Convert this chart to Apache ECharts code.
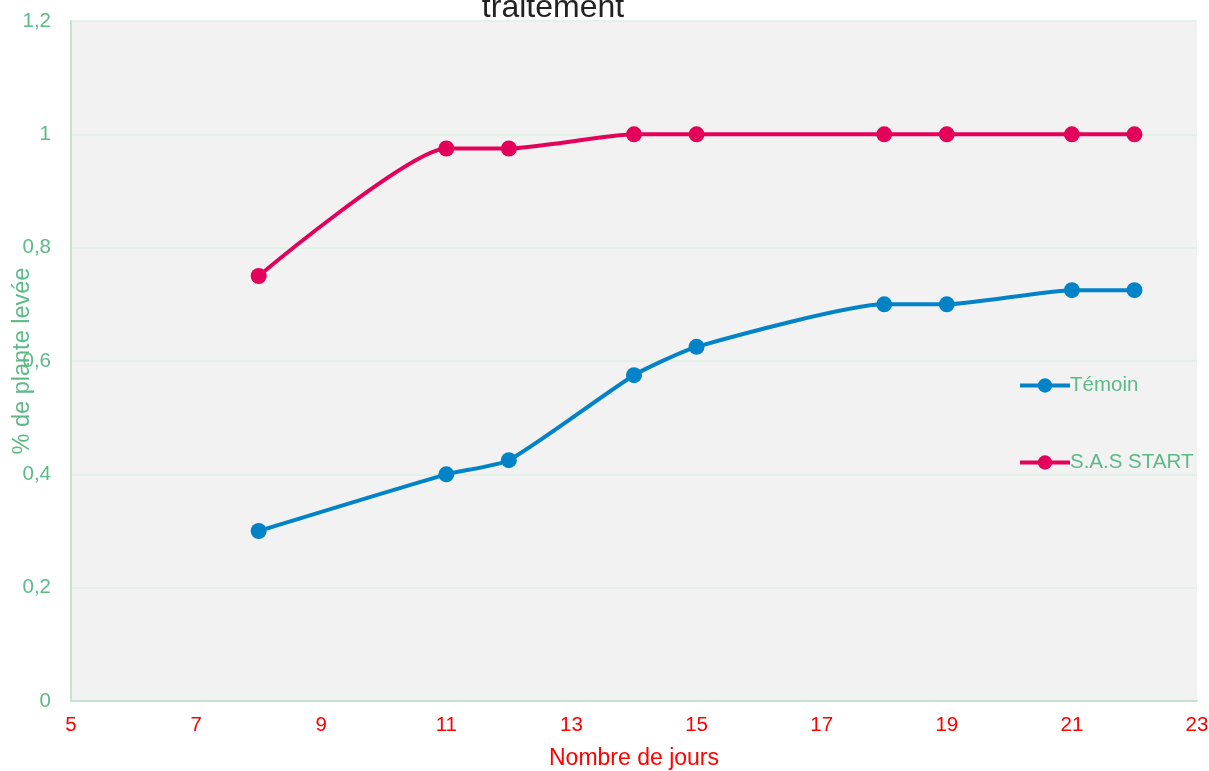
<!DOCTYPE html>
<html><head><meta charset="utf-8">
<script src="https://cdn.jsdelivr.net/npm/echarts@6/dist/echarts.min.js"></script>
<style>html,body{margin:0;padding:0;background:#fff}#c{width:1209px;height:771px}</style>
</head><body><div id="c"></div>
<script>
const days = [8, 11, 12, 14, 15, 18, 19, 21, 22];
const temoin = [0.3, 0.4, 0.425, 0.575, 0.625, 0.7, 0.7, 0.725, 0.725];
const sasStart = [0.75, 0.975, 0.975, 1, 1, 1, 1, 1, 1];
const seriesNames = ['Témoin', 'S.A.S START'];
const titleText = 'traitement';
const xName = 'Nombre de jours';
const yName = '% de plante levée';

const chart = echarts.init(document.getElementById('c'));
const font = 'Liberation Sans, Arial, sans-serif';
const pair = (xs, ys) => xs.map((x, i) => [x, ys[i]]);
chart.setOption({
  animation: false,
  backgroundColor: '#ffffff',
  title: {
    text: titleText, left: 548, top: -13, textAlign: 'center',
    textStyle: {fontFamily: font, fontSize: 32, fontWeight: 'normal', color: '#222222'}
  },
  grid: {left: 71, right: 12, top: 21, bottom: 70, outerBoundsMode: 'none', containLabel: false,
    show: true, backgroundColor: '#f2f2f2', borderWidth: 0},
  legend: {
    orient: 'vertical', left: 1013, top: 370, itemGap: 56, itemWidth: 50, itemHeight: 18,
    data: seriesNames.map(n => ({name: n})),
    lineStyle: {width: 4},
    textStyle: {fontFamily: font, fontSize: 20.5, color: '#5cba87', padding: [0, 0, 0, -5]}
  },
  xAxis: {
    type: 'value', min: 5, max: 23, interval: 2,
    name: xName, nameLocation: 'middle', nameGap: 46, nameMoveOverlap: false,
    nameTextStyle: {fontFamily: font, fontSize: 23, color: '#ff0000'},
    axisLine: {show: true, lineStyle: {color: '#c5e3d3', width: 2}},
    axisTick: {show: false},
    splitLine: {show: false},
    axisLabel: {fontFamily: font, fontSize: 20.5, color: '#ff0000', margin: 14}
  },
  yAxis: {
    type: 'value', min: 0, max: 1.2, interval: 0.2,
    name: yName, nameLocation: 'middle', nameGap: 36, nameRotate: 90, nameMoveOverlap: false,
    nameTextStyle: {fontFamily: font, fontSize: 23.5, color: '#5cba87'},
    axisLine: {show: true, lineStyle: {color: '#c5e3d3', width: 2}},
    axisTick: {show: false},
    splitLine: {show: true, lineStyle: {color: '#dcefe4', width: 1.5}},
    axisLabel: {fontFamily: font, fontSize: 20.5, color: '#5cba87', margin: 20,
      formatter: v => String(+v.toFixed(1)).replace('.', ',')}
  },
  series: [
    {name: seriesNames[0], type: 'line', data: pair(days, temoin), smooth: 0.18,
     symbol: 'circle', symbolSize: 16,
     lineStyle: {color: '#0383c7', width: 4}, itemStyle: {color: '#0383c7'}},
    {name: seriesNames[1], type: 'line', data: pair(days, sasStart), smooth: 0.18,
     symbol: 'circle', symbolSize: 16,
     lineStyle: {color: '#e3015a', width: 4}, itemStyle: {color: '#e3015a'}}
  ]
});
</script></body></html>
